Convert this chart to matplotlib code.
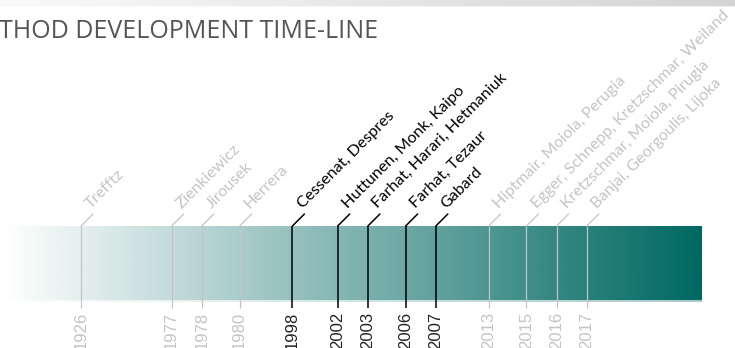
import numpy as np
import matplotlib
matplotlib.use('Agg')
from matplotlib import pyplot as plt
from matplotlib.colors import LinearSegmentedColormap

# ── Data ──────────────────────────────────────────────────────────────────────
years = ['1926', '1977', '1978', '1980', '1998', '2002', '2003',
         '2006', '2007', '2013', '2015', '2016', '2017']
slots = [0, 12, 16, 21, 28, 34, 38, 43, 47, 54, 59, 63, 67]   # place on the time-line
authors = ['Trefftz', 'Zienkiewicz', 'Jirousek', 'Herrera',
           'Cessenat, Despres', 'Huttunen, Monk, Kaipo',
           'Farhat, Harari, Hetmaniuk', 'Farhat, Tezaur', 'Gabard',
           'Hiptmair, Moiola, Perugia',
           'Egger, Schnepp, Kretzschmar, Weiland',
           'Kretzschmar, Moiola, Pirugia',
           'Banjai, Georgoulis, Lijoka']
highlight = [False, False, False, False, True, True, True, True, True,
             False, False, False, False]
title = 'THOD DEVELOPMENT TIME-LINE'

# ── Style ─────────────────────────────────────────────────────────────────────
TEAL = '#006862'
GREY = '#c4c4c4'
W, H, DPI = 735, 348, 100
PX = 7.55           # pixels per slot unit
X0 = 81             # pixel column of slot 0
BAR_L, BAR_R = -10.1, 82.1
BAR_TOP, BAR_BOT = 226, 300
TICK_END = 308

fig = plt.figure(figsize=(W / DPI, H / DPI), dpi=DPI)
ax = fig.add_axes([0, 0, 1, 1])
ax.set_xlim(-X0 / PX, (W - X0) / PX)
ax.set_ylim(H, 0)
ax.axis('off')

# header strip
hdr = np.linspace(0, 1, 256)[None, :]
hcm = LinearSegmentedColormap.from_list('hdr', ['#fafafa', '#d4d4d4'])
ax.imshow(hdr, cmap=hcm, extent=[-X0 / PX, (W - X0) / PX, 6, 0], aspect='auto', zorder=0)
ax.imshow(hdr, cmap=hcm, extent=[-X0 / PX, (W - X0) / PX, 7.5, 6], aspect='auto',
          alpha=0.35, zorder=0)

ax.text(-X0 / PX - 0.1, 31, title, fontsize=18, color='#555555',
        family='Open Sans', ha='left', va='center')

# gradient bar
grad = np.linspace(0, 1, 512)[None, :]
cm = LinearSegmentedColormap.from_list('tl', ['#ffffff', TEAL])
ax.imshow(grad, cmap=cm, extent=[BAR_L, BAR_R, BAR_BOT, BAR_TOP], aspect='auto', zorder=1)
ax.imshow(grad, cmap=cm, extent=[BAR_L, BAR_R, BAR_BOT + 2, BAR_BOT], aspect='auto',
          alpha=0.35, zorder=1)

pt = 72 / DPI   # points per pixel
for yr, s, name, hl in zip(years, slots, authors, highlight):
    col = 'black' if hl else GREY
    ycol = '#222222' if hl else GREY
    lw = 1.1 if hl else 0.9
    ax.plot([s, s], [BAR_TOP, TICK_END], color=col, lw=lw, zorder=3,
            solid_capstyle='butt')
    ax.annotate('', xy=(s, BAR_TOP), xytext=(12 * pt, 12 * pt),
                textcoords='offset points',
                arrowprops=dict(arrowstyle='-', color=col, lw=lw,
                                shrinkA=0, shrinkB=0))
    ax.annotate(name, xy=(s, BAR_TOP), xytext=(10 * pt, 17 * pt),
                textcoords='offset points', rotation=45, rotation_mode='anchor',
                ha='left', va='baseline', fontsize=11.6, color=col,
                family='Lato', annotation_clip=False)
    ax.annotate(yr, xy=(s, TICK_END), xytext=(0, -4 * pt),
                textcoords='offset points', rotation=90, ha='center', va='top',
                fontsize=12, color=ycol, family='Liberation Sans')

fig.savefig('out.png', dpi=DPI)
